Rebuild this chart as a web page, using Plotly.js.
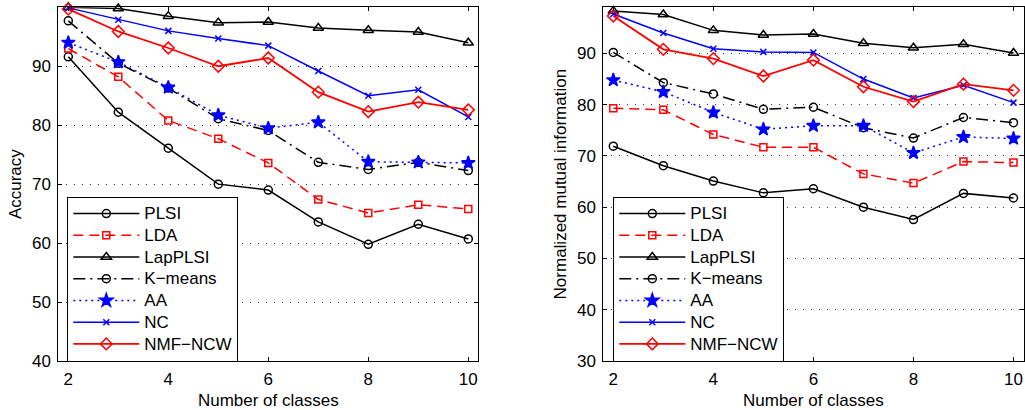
<!DOCTYPE html>
<html>
<head>
<meta charset="utf-8">
<script src="https://cdn.plot.ly/plotly-3.0.1.min.js"></script>
<style>html,body{margin:0;padding:0;background:#fff;} #chart{width:1025px;height:410px;}</style>
</head>
<body>
<div id="chart"></div>
<script>
// ---------- data ----------
const classes = [2, 3, 4, 5, 6, 7, 8, 9, 10];
const seriesNames = ["PLSI", "LDA", "LapPLSI", "K\u2212means", "AA", "NC", "NMF\u2212NCW"];

// Accuracy (left panel)
const accPLSI    = [91.6, 82.2, 76.1, 70.0, 69.0, 63.6, 59.8, 63.2, 60.7];
const accLDA     = [93.0, 88.2, 80.8, 77.7, 73.6, 67.4, 65.1, 66.5, 65.8];
const accLapPLSI = [100.0, 99.8, 98.5, 97.4, 97.5, 96.5, 96.1, 95.8, 94.0];
const accKmeans  = [97.7, 90.5, 86.3, 81.1, 79.1, 73.7, 72.5, 73.7, 72.3];
const accAA      = [94.0, 90.7, 86.4, 81.7, 79.5, 80.5, 73.8, 73.7, 73.6];
const accNC      = [99.9, 97.9, 96.0, 94.7, 93.5, 89.2, 85.0, 86.0, 81.4];
const accNMF     = [99.7, 95.9, 93.1, 90.0, 91.4, 85.6, 82.3, 83.9, 82.6];

// Normalized mutual information (right panel)
const nmiPLSI    = [71.9, 68.1, 65.1, 62.8, 63.6, 60.0, 57.6, 62.7, 61.8];
const nmiLDA     = [79.3, 79.0, 74.2, 71.7, 71.7, 66.5, 64.7, 68.9, 68.7];
const nmiLapPLSI = [98.3, 97.6, 94.5, 93.6, 93.8, 92.0, 91.1, 91.8, 90.1];
const nmiKmeans  = [90.2, 84.3, 82.1, 79.1, 79.5, 75.5, 73.5, 77.5, 76.5];
const nmiAA      = [84.8, 82.5, 78.5, 75.2, 75.9, 75.9, 70.6, 73.7, 73.4];
const nmiNC      = [97.7, 94.0, 90.9, 90.3, 90.2, 85.0, 81.3, 83.8, 80.4];
const nmiNMF     = [97.3, 90.8, 89.0, 85.6, 88.7, 83.5, 80.6, 84.0, 82.8];

const xTicks = [2, 4, 6, 8, 10];
const accTicks = [40, 50, 60, 70, 80, 90];
const nmiTicks = [30, 40, 50, 60, 70, 80, 90];

// ---------- styles ----------
const styles = [
  {color: "#000000", dash: "solid",            symbol: "circle-open",      size: 8,  lw: 1.5},
  {color: "#ff0000", dash: "10px,6px",         symbol: "square-open",      size: 7,  lw: 1.5},
  {color: "#000000", dash: "solid",            symbol: "triangle-up-open", size: 9,  lw: 1.5},
  {color: "#000000", dash: "12px,5px,2px,5px", symbol: "circle-open",      size: 8,  lw: 1.5},
  {color: "#0000ff", dash: "2px,4px",          symbol: "star",             size: 10, lw: 1.5},
  {color: "#0000ff", dash: "solid",            symbol: "x-thin-open",      size: 6,  lw: 1.5},
  {color: "#ff0000", dash: "solid",            symbol: "diamond-open",     size: 9,  lw: 1.8}
];

const accSeries = [accPLSI, accLDA, accLapPLSI, accKmeans, accAA, accNC, accNMF];
const nmiSeries = [nmiPLSI, nmiLDA, nmiLapPLSI, nmiKmeans, nmiAA, nmiNC, nmiNMF];

function makeTraces(series, xa, ya, legendId) {
  return series.map((ys, i) => ({
    type: "scatter", mode: "lines+markers",
    x: classes, y: ys,
    name: '<span style="font-size:17px">' + seriesNames[i] + '</span>',
    xaxis: xa, yaxis: ya, legend: legendId,
    line: {color: styles[i].color, dash: styles[i].dash, width: styles[i].lw},
    marker: {symbol: styles[i].symbol, size: styles[i].size, color: styles[i].color,
             line: {color: styles[i].color, width: 1.5}},
    cliponaxis: false
  }));
}

const data = makeTraces(accSeries, "x", "y", "legend")
  .concat(makeTraces(nmiSeries, "x2", "y2", "legend2"));

const FONT = "Liberation Sans, Arial, Helvetica, sans-serif";
const W = 1025, H = 410;

function xAxis(domain, anchor) {
  return {
    domain: domain, anchor: anchor, range: [1.8, 10.2],
    tickvals: xTicks, ticks: "inside", ticklen: 4, tickcolor: "#000",
    ticklabelstandoff: 3,
    showgrid: false, zeroline: false,
    showline: true, linecolor: "#000", linewidth: 1, mirror: "allticks",
    tickfont: {family: FONT, size: 17, color: "#000"},
    title: {text: "Number of classes", font: {family: FONT, size: 17, color: "#000"}, standoff: 7},
    automargin: false
  };
}
function yAxis(domain, anchor, range, ticks, title) {
  return {
    domain: domain, anchor: anchor, range: range,
    tickvals: ticks, ticks: "inside", ticklen: 4, tickcolor: "#000",
    ticklabelstandoff: 3,
    showgrid: true, gridcolor: "#333", griddash: "1px,7px", gridwidth: 1,
    zeroline: false,
    showline: true, linecolor: "#000", linewidth: 1, mirror: "allticks",
    tickfont: {family: FONT, size: 17, color: "#000"},
    title: {text: title, font: {family: FONT, size: 17, color: "#000"}, standoff: 6},
    automargin: false
  };
}

const yDom = [(H - 361) / H, (H - 7.3) / H];

const legendCommon = {
  xanchor: "left", yanchor: "top",
  bgcolor: "#fff", bordercolor: "#000", borderwidth: 1,
  font: {family: FONT, size: 14.4, color: "#000"},
  itemwidth: 66, tracegroupgap: 0
};

const layout = {
  width: W, height: H,
  margin: {l: 0, r: 0, t: 0, b: 0},
  paper_bgcolor: "#fff", plot_bgcolor: "#fff",
  font: {family: FONT, size: 17, color: "#000"},
  showlegend: true,
  xaxis: xAxis([58.3 / W, 478.3 / W], "y"),
  yaxis: yAxis(yDom, "x", [40, 100], accTicks, "Accuracy"),
  xaxis2: xAxis([603.3 / W, 1023.5 / W], "y2"),
  yaxis2: yAxis(yDom, "x2", [30, 99], nmiTicks, "Normalized mutual information"),
  legend: Object.assign({x: 67.3 / W, y: (H - 196.7) / H}, legendCommon),
  legend2: Object.assign({x: 613.3 / W, y: (H - 196.7) / H}, legendCommon)
};

Plotly.newPlot("chart", data, layout, {staticPlot: true, displayModeBar: false});
</script>
</body>
</html>
